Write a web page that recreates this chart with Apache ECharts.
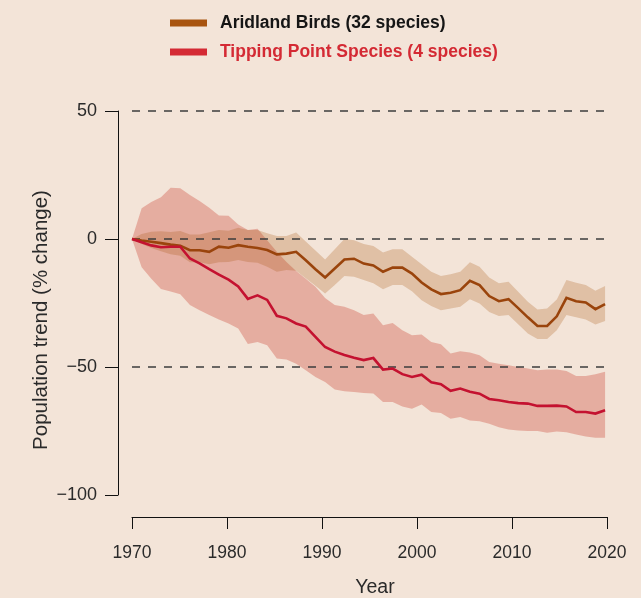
<!DOCTYPE html>
<html>
<head>
<meta charset="utf-8">
<script src="https://cdn.jsdelivr.net/npm/echarts@6/dist/echarts.min.js"></script>
<style>
html,body{margin:0;padding:0;background:#f3e4d8;}
#chart{width:641px;height:598px;}
</style>
</head>
<body>
<div id="chart"></div>
<script>
const years = [1970,1971,1972,1973,1974,1975,1976,1977,1978,1979,1980,1981,1982,1983,1984,1985,1986,1987,1988,1989,1990,1991,1992,1993,1994,1995,1996,1997,1998,1999,2000,2001,2002,2003,2004,2005,2006,2007,2008,2009,2010,2011,2012,2013,2014,2015,2016,2017,2018,2019];

const aridMean = [0,-0.6,-1.1,-1.6,-2.2,-2.6,-4.4,-4.4,-5,-3,-3.4,-2.4,-3,-3.5,-4.3,-6,-5.7,-5,-8.3,-11.8,-15,-11.5,-8,-7.7,-9.6,-10.3,-12.8,-11.2,-11.2,-13.5,-17,-19.7,-21.5,-21,-20,-16.3,-18,-22.3,-24.3,-23.5,-27,-30.6,-34,-34,-30.2,-23,-24.3,-24.8,-27.4,-25.4];
const aridUpper = [0,2,2.8,3,2.7,3.1,1.8,1.8,2.6,3.5,3.2,4.4,3.5,3.5,2.2,1.2,1.2,2.5,-1,-4.5,-8,-4,0,-0.5,-2,-2.7,-5.3,-4,-4,-6.9,-9.9,-12.8,-14.5,-13.8,-12.8,-9.1,-10.8,-15,-17.3,-16.7,-20.6,-24.5,-27.5,-27.1,-23.6,-16,-17.1,-18,-20.2,-18.4];
const aridLower = [0,-2,-3.5,-4.8,-6,-6.5,-9.1,-9.1,-9.9,-9.1,-9,-8.2,-9,-9.3,-10.8,-12.8,-12.1,-12.4,-15.3,-18.3,-21.3,-18,-14.5,-14.7,-16,-17.3,-19.6,-18,-18,-20.4,-23.9,-26.2,-27.8,-27.1,-26.5,-23.5,-25.2,-28.5,-30.1,-29.7,-33.3,-36.9,-39.1,-39.1,-35.6,-29.7,-30.6,-31.4,-33.4,-32];

const tipMean = [0,-1.3,-2.5,-3.2,-3,-3,-7.6,-9.5,-11.8,-13.9,-15.9,-18.5,-23.4,-22,-23.8,-30,-31,-33,-34.2,-38.2,-42.2,-44,-45.3,-46.4,-47.3,-46.5,-51,-50.6,-52.8,-53.9,-53,-56,-56.7,-59.3,-58.4,-59.7,-60.4,-62.5,-63,-63.7,-64.1,-64.3,-65.2,-65.2,-65.1,-65.4,-67.6,-67.6,-68.2,-66.9];
const tipUpper = [0,12,14.5,16.3,20,19.8,17.2,14.8,12.2,9.2,9.1,5.7,3.5,4,-0.5,-5,-9,-12.5,-15.5,-18.7,-23,-25.8,-26.5,-27.8,-29.7,-29.1,-33.7,-32.8,-35.6,-37.6,-37.3,-40.2,-41.1,-44.7,-43.8,-44.3,-45.4,-48,-48.7,-49.3,-50,-50.6,-51.3,-51,-51,-51.6,-53.5,-53.5,-52.8,-51.9];
const tipLower = [0,-11,-15.5,-19.5,-20.5,-21.6,-25.8,-27.8,-29.7,-31.4,-33,-35,-41,-40.2,-41.5,-46.7,-47.1,-48.7,-51.3,-53.9,-55.9,-58.8,-59.5,-59.8,-60.2,-60.4,-63.7,-63.7,-65.4,-66.3,-64.6,-67.6,-68,-70.2,-69.5,-70.9,-71.2,-72.2,-73.5,-74.4,-74.8,-75,-75,-75.7,-75.2,-75.5,-76.4,-77.1,-77.6,-77.6];

const xTicks = [1970, 1980, 1990, 2000, 2010, 2020];
const yTicks = [-100, -50, 0, 50];
const refLines = [50, 0, -50];

const aridName = 'Aridland Birds (32 species)';
const tipName = 'Tipping Point Species (4 species)';

const pairs = (arr) => years.map((y, i) => [y, arr[i]]);

function bandSeries(name, lower, upper, fill, z) {
  return {
    name: name, type: 'custom', xAxisIndex: 1, yAxisIndex: 0, silent: true, z: z,
    data: years.map((y, i) => [y, lower[i], upper[i]]),
    encode: { x: 0, y: [1, 2] },
    renderItem: function (params, api) {
      if (params.dataIndex !== 0) return null;
      const top = years.map((y, i) => api.coord([y, upper[i]]));
      const bot = years.map((y, i) => api.coord([y, lower[i]])).reverse();
      return { type: 'polygon', shape: { points: top.concat(bot) }, style: { fill: fill } };
    }
  };
}

const chart = echarts.init(document.getElementById('chart'), null, { renderer: 'canvas' });
chart.setOption({
  backgroundColor: '#f3e4d8',
  animation: false,
  textStyle: { fontFamily: 'Liberation Sans, Arial, sans-serif' },
  legend: {
    orient: 'vertical', left: 165, top: 9,
    icon: 'rect', itemWidth: 37, itemHeight: 7, itemGap: 11,
    selectedMode: false,
    textStyle: { fontSize: 17.5, fontWeight: 'bold', lineHeight: 18, padding: [0, 0, 0, 8], fontFamily: 'Liberation Sans, Arial, sans-serif' },
    data: [
      { name: aridName, itemStyle: { color: '#a8540f' }, textStyle: { color: '#151515' } },
      { name: tipName, itemStyle: { color: '#d42a34' }, textStyle: { color: '#d42a34' } }
    ]
  },
  grid: { left: 132, right: 34, top: 111, bottom: 103 },
  xAxis: [
    {
      type: 'value', min: xTicks[0], max: xTicks[xTicks.length - 1], interval: 10,
      position: 'bottom', offset: 22,
      axisLine: { show: true, onZero: false, lineStyle: { color: '#111', width: 1 } },
      axisTick: { show: true, length: 12, lineStyle: { color: '#111', width: 1 } },
      axisLabel: { margin: 27, fontSize: 17.5, color: '#2a2a2a', formatter: (v) => String(v) },
      splitLine: { show: false }
    },
    { type: 'value', min: 1970, max: 2019.2, show: false, axisLine: { onZero: false } }
  ],
  yAxis: {
    type: 'value', min: yTicks[0], max: yTicks[yTicks.length - 1], interval: 50,
    offset: 14,
    axisLine: { show: true, onZero: false, lineStyle: { color: '#111', width: 1 } },
    axisTick: { show: true, length: 13, lineStyle: { color: '#111', width: 1 } },
    axisLabel: { margin: 21, fontSize: 18, color: '#2a2a2a', formatter: (v) => (v < 0 ? '\u2212' + Math.abs(v) : String(v)) },
    splitLine: { show: false }
  },
  graphic: [
    { type: 'text', x: 41, y: 320, rotation: Math.PI / 2, z: 100,
      style: { text: 'Population trend (% change)', fontSize: 20.5, fill: '#2a2a2a', fontFamily: 'Liberation Sans, Arial, sans-serif', align: 'center', verticalAlign: 'middle' } },
    { type: 'text', x: 375, y: 588, z: 100,
      style: { text: 'Year', fontSize: 19.5, fill: '#2a2a2a', fontFamily: 'Liberation Sans, Arial, sans-serif', align: 'center', verticalAlign: 'middle' } }
  ],
  series: [
    bandSeries('tipBand', tipLower, tipUpper, 'rgba(200,48,29,0.3)', 1),
    bandSeries('aridBand', aridLower, aridUpper, 'rgba(167,84,12,0.25)', 2),
    { name: 'refLines', type: 'line', xAxisIndex: 1, symbol: 'none', z: 3, silent: true,
      data: pairs(aridMean), lineStyle: { opacity: 0 },
      markLine: {
        silent: true, symbol: ['none', 'none'], label: { show: false },
        lineStyle: { type: [8, 8], color: '#3c3c3c', width: 1.6 },
        data: refLines.map((v) => ({ yAxis: v }))
      } },
    { name: aridName, type: 'line', xAxisIndex: 1, symbol: 'none', z: 5,
      data: pairs(aridMean), itemStyle: { color: '#9a440c' },
      lineStyle: { color: '#9a440c', width: 2.6, join: 'miter' } },
    { name: tipName, type: 'line', xAxisIndex: 1, symbol: 'none', z: 6,
      data: pairs(tipMean), itemStyle: { color: '#c41230' },
      lineStyle: { color: '#c41230', width: 2.6, join: 'miter' } }
  ]
});
</script>
</body>
</html>
